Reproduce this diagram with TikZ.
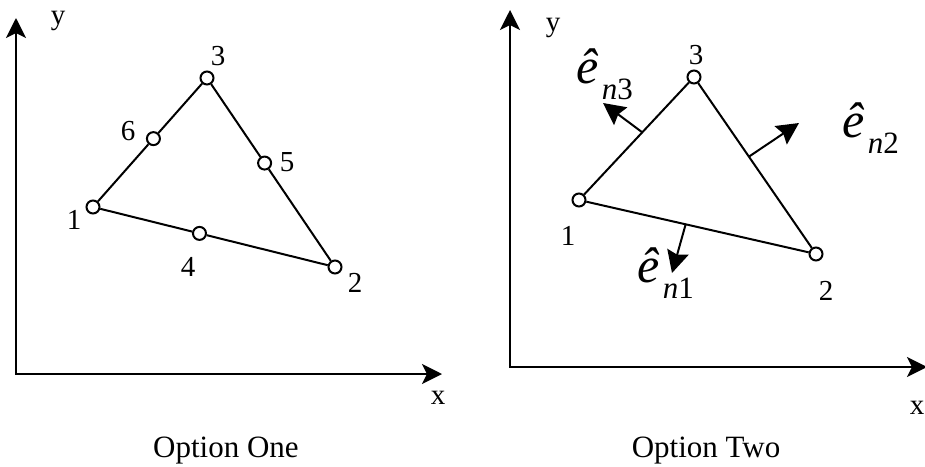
\documentclass[tikz,border=0pt]{standalone}
\usepackage{fontspec}
\setmainfont{Liberation Serif}
\usetikzlibrary{arrows.meta, positioning, calc}
\newcommand{\ehat}[1]{{\fontsize{25}{29}\selectfont\itshape ê}\,\raisebox{-8pt}{\fontsize{15.5}{18}\selectfont\itshape n\upshape #1}}
\tikzset{
  vtx/.style={draw, circle, line width=1pt, fill=white, inner sep=0pt, minimum size=6.5pt},
  side/.style={line width=1pt},
  axis/.style={line width=1pt, {Stealth[length=10pt,width=10pt,inset=2.5pt]}-{Stealth[length=10pt,width=10pt,inset=2.5pt]}},
  normal/.style={line width=1pt, -{Stealth[length=11pt,width=11pt,inset=1.5pt]}},
  lbl/.style={inner sep=0pt, font=\fontsize{14.5}{17}\selectfont},
  unitvec/.style={inner sep=0pt, anchor=base west},
  caption/.style={inner sep=0pt, anchor=base, font=\fontsize{15.5}{18}\selectfont}
}
\begin{document}
\begin{tikzpicture}[x=0.5pt, y=-0.5pt]
    \useasboundingbox (0,0) rectangle (925,466);

    % Option One: six-node element
    \coordinate (ytipA) at (16,18);
    \coordinate (oA) at (16,374);
    \coordinate (xtipA) at (442,374);
    \draw[axis] (ytipA) -- (oA) -- (xtipA);

    \node[vtx] (a1) at (93,207) {};
    \node[vtx] (a2) at (335,267) {};
    \node[vtx] (a3) at (207,78) {};
    \node[vtx] (a4) at ($(a1)!0.44!(a2)$) {};
    \node[vtx] (a5) at ($(a3)!0.45!(a2)$) {};
    \node[vtx] (a6) at ($(a1)!0.53!(a3)$) {};
    \draw[side] (a1) -- (a4) -- (a2) -- (a5) -- (a3) -- (a6) -- (a1);

    \node[lbl] (lyA) at (58,21) {y};
    \node[lbl] (lxA) at (438,398) {x};
    \node[lbl] (la1) at (74,220) {1};
    \node[lbl] (la2) at (355,283) {2};
    \node[lbl] (la3) at (218,56) {3};
    \node[lbl] (la4) at (188,267) {4};
    \node[lbl] (la5) at (287,162) {5};
    \node[lbl] (la6) at (128,131) {6};
    \node[caption] (capA) at (226,457) {Option One};

    % Option Two: three-node element with side normals
    \coordinate (ytipB) at (510,10);
    \coordinate (oB) at (510,367);
    \coordinate (xtipB) at (927,367);
    \draw[axis] (ytipB) -- (oB) -- (xtipB);

    \node[vtx] (b1) at (579,200) {};
    \node[vtx] (b2) at (816,254) {};
    \node[vtx] (b3) at (694,77) {};
    \draw[side] (b1) -- (b2) -- (b3) -- (b1);

    \coordinate (f12) at ($(b1)!0.45!(b2)$);
    \coordinate (t12) at (672,273);
    \coordinate (f23) at ($(b3)!0.45!(b2)$);
    \coordinate (t23) at (799,123);
    \coordinate (f13) at ($(b1)!0.55!(b3)$);
    \coordinate (t13) at (603,103);
    \draw[normal] (f12) -- (t12);
    \draw[normal] (f23) -- (t23);
    \draw[normal] (f13) -- (t13);

    \node[unitvec] (en1) at (637,282) {\ehat{1}};
    \node[unitvec] (en2) at (842,137) {\ehat{2}};
    \node[unitvec] (en3) at (576,83) {\ehat{3}};

    \node[lbl] (lyB) at (553,28) {y};
    \node[lbl] (lxB) at (917,408) {x};
    \node[lbl] (lb1) at (568,236) {1};
    \node[lbl] (lb2) at (826,291) {2};
    \node[lbl] (lb3) at (696,55) {3};
    \node[caption] (capB) at (706,457) {Option Two};
\end{tikzpicture}
\end{document}
